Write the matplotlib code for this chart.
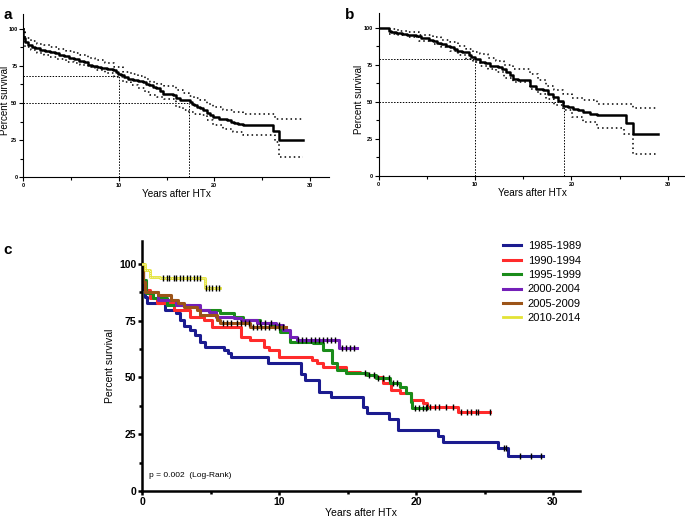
import numpy as np
import matplotlib.pyplot as plt
from matplotlib.ticker import MultipleLocator

plt.rcParams['font.family'] = ['Liberation Sans', 'DejaVu Sans']

# ---- Panel a: overall survival (step vertices) ----
a_t = [0, 0.05, 0.2, 0.5, 0.9, 1.3, 1.8, 2.3, 2.8, 3.3, 3.8, 4.3, 4.8, 5.3, 5.9, 6.4, 6.8, 7.2, 7.7, 8.2, 8.8, 9.4, 9.7, 9.9, 10.2, 10.6, 11.0, 11.5, 12.0, 12.5, 12.9, 13.2, 13.6, 13.9, 14.3, 14.6, 15.7, 16.0, 16.4, 17.4, 17.7, 17.9, 18.2, 18.5, 18.8, 19.2, 19.5, 19.9, 20.5, 21.3, 21.7, 22.0, 22.5, 23.0, 26.1, 26.8, 29.3]
a_s = [100, 94, 91.4, 89.5, 88, 87, 86, 85.3, 84.7, 83.5, 82.5, 81.5, 80.5, 79.5, 78.5, 77.5, 76, 75, 74.5, 73.5, 73, 72.2, 71, 69.5, 68.8, 67.5, 66.5, 65.5, 65, 64.3, 63, 62, 61, 59.8, 58, 56.4, 55.3, 53.5, 52, 50.8, 49.5, 48.5, 47.3, 46.3, 45, 43.5, 42, 40.6, 39.5, 38.4, 37.5, 36.6, 35.8, 35, 31, 24.8, 24.8]
a_up_t = [0, 0.2, 0.8, 1.5, 2.2, 2.8, 3.6, 4.5, 5.3, 6.0, 6.8, 7.5, 8.6, 9.5, 10.5, 11.3, 12.0, 12.7, 13.3, 14.0, 14.7, 16.0, 16.7, 17.3, 17.9, 18.5, 19.2, 19.9, 20.9, 21.9, 23.0, 25.7, 26.3, 29.3]
a_up_s = [100, 93.7, 92, 90, 89, 88, 86.5, 85, 83.5, 82.4, 80.5, 79, 76.7, 74.5, 71, 69.5, 68, 66, 64.3, 63, 61.4, 58.7, 57, 55, 53.5, 52, 49.5, 47, 45.5, 44, 42.9, 42.4, 39.5, 38.8]
a_lo_t = [0, 0.2, 0.8, 1.5, 2.2, 2.8, 3.6, 4.5, 5.3, 6.0, 6.8, 7.5, 8.6, 9.5, 10.5, 11.3, 12.0, 12.7, 13.3, 14.0, 14.7, 16.0, 16.7, 17.3, 17.9, 18.5, 19.2, 19.9, 20.9, 21.9, 23.0, 25.7, 26.3, 26.8, 29.3]
a_lo_s = [100, 88, 85.5, 83.5, 82.3, 81.3, 79.8, 78, 76.8, 75.6, 74, 72.5, 70, 67.3, 64, 62, 60, 57.5, 55.3, 54, 52.4, 47.4, 45.5, 44, 42.8, 41.8, 38.5, 35, 32.5, 30.5, 28.2, 28.2, 23.7, 13.5, 13.5]
a_ref = [(10.0, 68), (17.3, 50)]

# ---- Panel b ----
b_t = [0, 1.1, 1.3, 1.8, 2.4, 2.9, 3.4, 3.9, 4.4, 4.8, 5.2, 5.6, 6.0, 6.5, 7.0, 7.4, 7.8, 8.1, 8.6, 9.1, 9.4, 9.6, 10.0, 10.5, 11.0, 11.5, 12.4, 12.8, 13.2, 13.6, 13.9, 14.4, 15.0, 15.7, 16.3, 17.0, 17.6, 18.1, 18.6, 19.1, 19.6, 20.2, 20.7, 21.2, 21.9, 22.6, 25.7, 26.4, 29.0]
b_s = [100, 97.8, 97, 96.5, 96, 95.5, 95, 94.8, 93.5, 93, 92, 91.5, 90, 89, 88, 87, 86, 84.7, 84, 83.6, 82, 80.2, 79, 76.9, 76, 74.6, 73.5, 72, 70.1, 68, 65.6, 65, 64.5, 61.1, 58.9, 57.8, 55.5, 53.3, 50.5, 47.6, 46.5, 45.4, 44.5, 43.1, 42, 40.9, 35.7, 28.5, 28.5]
b_up_t = [1.1, 2.0, 2.9, 4.2, 5.6, 6.5, 7.4, 8.2, 9.1, 9.8, 10.5, 11.3, 12.2, 13.0, 13.9, 15.7, 16.5, 17.4, 18.2, 19.1, 20.1, 21.2, 22.6, 25.7, 26.4, 29.0]
b_up_s = [99, 98, 97, 95.5, 93.7, 92, 90.3, 88, 85.8, 84, 82.5, 80, 78, 75, 72.4, 69, 65, 61, 58, 55.5, 53, 51, 48.8, 48.8, 46, 46]
b_lo_t = [1.1, 2.0, 2.9, 4.2, 5.6, 6.5, 7.4, 8.2, 9.1, 9.8, 10.5, 11.3, 12.2, 13.0, 13.9, 15.7, 16.5, 17.4, 18.2, 19.1, 20.1, 21.2, 22.6, 24.9, 25.5, 26.4, 29.0]
b_lo_s = [96, 95, 93.7, 91.5, 89.2, 87, 84.7, 82, 79.1, 77, 74.6, 72.5, 70, 66.5, 63.4, 58.9, 55.5, 52, 48, 44.3, 40, 36.4, 32.6, 32.6, 28.5, 15, 15]
b_ref = [(10.0, 79), (19.2, 50)]

# ---- Panel c: survival by era ----
eras = ["1985-1989", "1990-1994", "1995-1999", "2000-2004", "2005-2009", "2010-2014"]
colors = ["#1b1b8f", "#ff2b2b", "#1a8c1a", "#7420b8", "#9c5418", "#e3e335"]

t_8589 = [0, 0.1, 0.2, 0.4, 1.7, 2.5, 2.8, 3.1, 3.5, 3.9, 4.2, 4.6, 6.0, 6.3, 6.5, 9.2, 11.6, 11.9, 12.9, 13.8, 16.1, 16.4, 18.0, 18.7, 21.6, 22.0, 26.0, 26.7, 29.3]
s_8589 = [100, 89, 85.6, 82.7, 79.7, 78.3, 75.3, 72.5, 70.9, 68.7, 65.8, 63.6, 62.1, 60.6, 59.2, 56.2, 51.5, 48.9, 43.8, 41.6, 37.2, 34.2, 31.5, 26.9, 24.2, 21.7, 18.8, 15.6, 15.6]
t_9094 = [0, 0.1, 0.3, 0.6, 1.1, 2.3, 3.5, 4.5, 5.1, 7.2, 7.9, 8.9, 9.3, 10.0, 12.4, 12.8, 13.2, 14.9, 15.9, 16.4, 17.0, 17.6, 18.2, 18.8, 19.6, 20.5, 20.8, 23.1, 25.4]
s_9094 = [100, 92, 88.5, 84.9, 82.7, 79.7, 76.8, 75.3, 72.4, 68, 66.5, 63.6, 62.1, 59.2, 57.5, 56.2, 54.8, 52.6, 51.8, 51.1, 50, 47.4, 44.5, 43, 40.1, 38.9, 37.2, 35, 35]
t_9599 = [0, 0.1, 0.3, 0.8, 1.8, 3.5, 4.2, 5.7, 6.7, 7.4, 8.6, 9.4, 10.1, 10.8, 12.5, 13.2, 13.9, 14.2, 14.9, 16.4, 17.1, 18.1, 18.8, 19.3, 19.6, 19.7, 20.8]
s_9599 = [100, 93, 87, 84.9, 82, 81.2, 79.7, 78.3, 76.8, 75.3, 73.9, 73.1, 70.2, 65.8, 65, 62.1, 56.2, 53.3, 51.8, 51.1, 49.6, 47.4, 46, 43, 39.4, 36.4, 36.4]
t_0004 = [0, 0.1, 0.2, 1.2, 2.5, 4.2, 4.9, 5.4, 6.7, 7.2, 8.4, 9.8, 10.3, 10.8, 11.3, 14.4, 15.7]
s_0004 = [100, 92, 87.8, 84.1, 82, 79.7, 79, 76.8, 76.1, 75.3, 73.9, 73.1, 70.9, 68, 66.5, 62.8, 62.8]
t_0509 = [0, 0.1, 0.2, 1.2, 2.1, 2.6, 3.1, 4.0, 4.2, 5.5, 5.7, 7.9, 10.5]
s_0509 = [100, 92, 87.8, 86.3, 84.1, 82.7, 81.2, 79.7, 77.5, 75.3, 73.9, 72.1, 72.1]
t_1014 = [0, 0.2, 0.6, 1.3, 4.6, 5.7]
s_1014 = [100, 97.4, 94.4, 93.7, 89.3, 89.3]

cens_8589 = [26.4, 26.6, 27.6, 28.4, 29.1]
cens_9094 = [20.8, 21.0, 21.4, 21.7, 22.2, 22.7, 23.3, 23.7, 24.0, 24.4, 24.5, 25.4]
cens_9599 = [16.3, 16.6, 16.9, 17.2, 17.6, 18.0, 18.3, 18.6, 19.9, 20.2, 20.5, 20.7]
cens_0004 = [8.6, 9.0, 9.4, 10.0, 11.4, 11.7, 12.0, 12.3, 12.6, 12.9, 13.2, 13.5, 13.8, 14.1, 14.6, 14.9, 15.2, 15.5]
cens_0509 = [5.9, 6.2, 6.5, 6.9, 7.2, 7.5, 7.8, 8.1, 8.4, 8.7, 9.0, 9.3, 9.7, 10.0, 10.3]
cens_1014 = [1.5, 1.8, 2.0, 2.3, 2.5, 2.8, 3.0, 3.3, 3.5, 3.8, 4.0, 4.2, 4.7, 4.9, 5.1, 5.4, 5.6]

curves = [(t_8589, s_8589, cens_8589), (t_9094, s_9094, cens_9094), (t_9599, s_9599, cens_9599),
          (t_0004, s_0004, cens_0004), (t_0509, s_0509, cens_0509), (t_1014, s_1014, cens_1014)]


def step_value(t, s, x):
    i = np.searchsorted(t, x, side="right") - 1
    return np.array(s)[i]


def style_axes(ax, tick_size, lw, label_size):
    ax.spines["top"].set_visible(False)
    ax.spines["right"].set_visible(False)
    ax.spines["left"].set_linewidth(lw)
    ax.spines["bottom"].set_linewidth(lw)
    ax.set_xlim(0, 32)
    ax.set_ylim(0, 110)
    ax.set_xticks([0, 10, 20, 30])
    ax.set_yticks([0, 25, 50, 75, 100])
    ax.xaxis.set_minor_locator(MultipleLocator(5))
    ax.yaxis.set_minor_locator(MultipleLocator(12.5))
    ax.tick_params(which="major", length=3, width=lw, labelsize=tick_size, pad=1)
    ax.tick_params(which="minor", length=2, width=lw)
    for lab in ax.get_xticklabels() + ax.get_yticklabels():
        lab.set_fontweight("bold")
    ax.set_xlabel("Years after HTx", fontsize=label_size, labelpad=1)
    ax.set_ylabel("Percent survival", fontsize=label_size)


fig = plt.figure(figsize=(6.85, 5.17), dpi=100)

for pos, t, s, ut, us, lt, ls, ref, tag, tx, ylx in [
        ([0.0336, 0.6576, 0.447, 0.315], a_t, a_s, a_up_t, a_up_s, a_lo_t, a_lo_s, a_ref, "a", 0.005, -0.042),
        ([0.553, 0.6596, 0.45, 0.315], b_t, b_s, b_up_t, b_up_s, b_lo_t, b_lo_s, b_ref, "b", 0.503, -0.049)]:
    ax = fig.add_axes(pos)
    for xr, yr in ref:
        ax.plot([0, xr], [yr, yr], ls=(0, (1.5, 1.5)), color="black", lw=0.7)
        ax.plot([xr, xr], [0, yr], ls=(0, (1.5, 1.5)), color="black", lw=0.7)
    ax.plot(t, s, drawstyle="steps-post", color="black", lw=1.8)
    ax.plot(ut, us, drawstyle="steps-post", color="black", lw=1.1, ls=(0, (1, 2)))
    ax.plot(lt, ls, drawstyle="steps-post", color="black", lw=1.1, ls=(0, (1, 2)))
    style_axes(ax, 4, 0.8, 7)
    ax.xaxis.label.set_fontsize(7.2)
    ax.yaxis.set_label_coords(ylx, 0.47)
    fig.text(tx, 0.985, tag, fontsize=11, fontweight="bold", va="top")

axc = fig.add_axes([0.2073, 0.0503, 0.64, 0.483])
for (t, s, cens), col, lab in zip(curves, colors, eras):
    if lab == "2010-2014":
        axc.plot(t, s, drawstyle="steps-post", color=col, lw=2.0, label=lab, zorder=3)
        axc.plot(t, s, drawstyle="steps-post", color="white", lw=0.6, ls=(0, (1, 1.5)), zorder=3)
    else:
        axc.plot(t, s, drawstyle="steps-post", color=col, lw=2.2, label=lab)
    axc.plot(cens, step_value(t, s, cens), ls="none", marker="|", color="black",
             markersize=5, markeredgewidth=1.0, zorder=4)
style_axes(axc, 7.5, 1.8, 7.5)
axc.yaxis.labelpad = 3
axc.text(0.5, 6, "p = 0.002  (Log-Rank)", fontsize=6)
axc.legend(loc="upper left", bbox_to_anchor=(0.72, 0.553), bbox_transform=fig.transFigure,
           frameon=False, fontsize=8, handlelength=1.6, handletextpad=0.6, labelspacing=0.4)
fig.text(0.005, 0.53, "c", fontsize=11, fontweight="bold", va="top")

plt.savefig("out.png", dpi=100)
